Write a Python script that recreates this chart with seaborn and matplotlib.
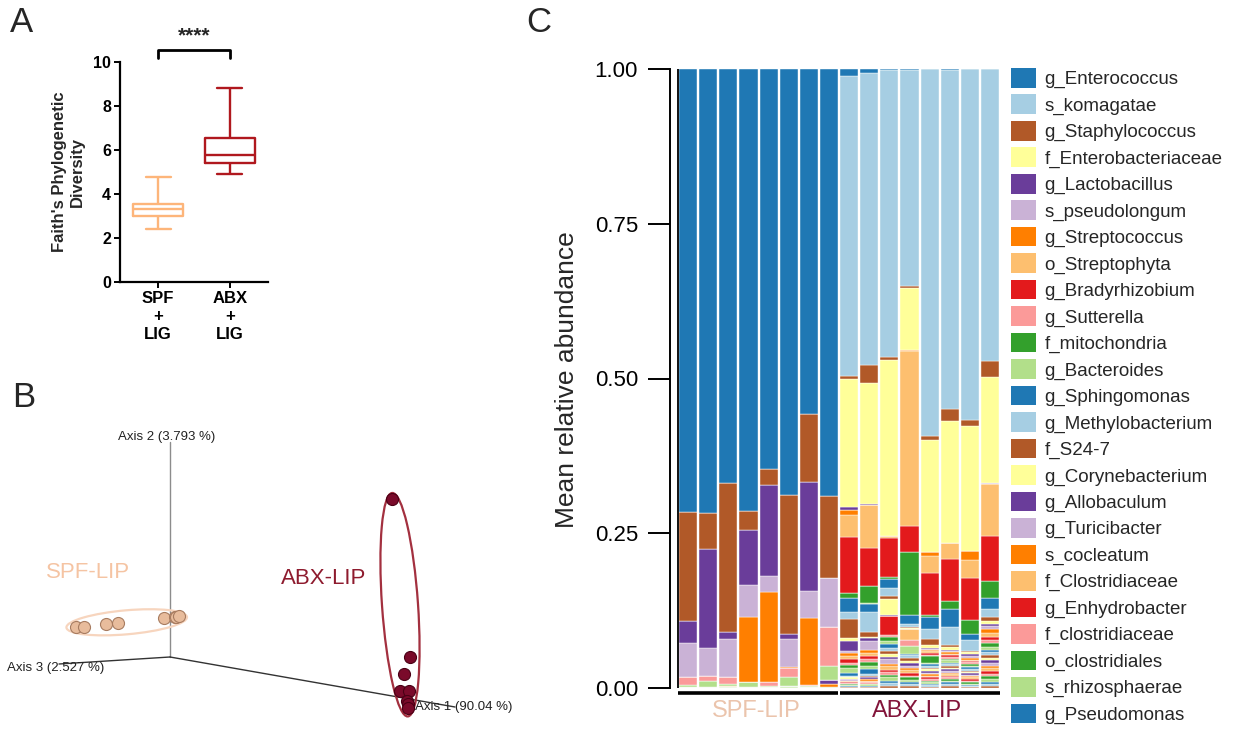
import numpy as np
import pandas as pd
import matplotlib
matplotlib.use("Agg")
import matplotlib.pyplot as plt
from matplotlib.patches import Ellipse, Patch
import seaborn as sns

FAITH_SPF = [2.42, 3.02, 3.30, 3.55, 4.79]
FAITH_ABX = [4.91, 5.42, 5.77, 6.53, 8.80]
GROUPS_A = ["SPF\n+\nLIG", "ABX\n+\nLIG"]
COLORS_A = ["#FDB57A", "#B0181E"]

# ---------------- Panel B data (projected PCoA coordinates, origin = axes origin)
SPF_PC_X = [-94.3, -86.0, -64.1, -52.0, -6.1, 4.7, 6.0, 8.8]
SPF_PC_Y = [29.7, 30.3, 32.7, 34.3, 38.7, 39.7, 40.5, 41.0]
ABX_PC_X = [221.7, 239.7, 233.5, 230.0, 239.0, 237.0, 238.0, 238.0]
ABX_PC_Y = [157.7, -0.3, -17.3, -33.7, -34.0, -43.7, -47.3, -51.3]
AXIS_LABELS_B = ["Axis 1 (90.04 %)", "Axis 2 (3.793 %)", "Axis 3 (2.527 %)"]

# ---------------- Panel C data
TAXA = ["g_Enterococcus", "s_komagatae", "g_Staphylococcus", "f_Enterobacteriaceae",
        "g_Lactobacillus", "s_pseudolongum", "g_Streptococcus", "o_Streptophyta",
        "g_Bradyrhizobium", "g_Sutterella", "f_mitochondria", "g_Bacteroides",
        "g_Sphingomonas", "g_Methylobacterium", "f_S24-7", "g_Corynebacterium",
        "g_Allobaculum", "g_Turicibacter", "s_cocleatum", "f_Clostridiaceae",
        "g_Enhydrobacter", "f_clostridiaceae", "o_clostridiales", "s_rhizosphaerae",
        "g_Pseudomonas"]
MINOR_TAXA = ["minor_%02d" % i for i in range(1, 15)]

SAMPLES = ["SPF-1", "SPF-2", "SPF-3", "SPF-4", "SPF-5", "SPF-6", "SPF-7", "SPF-8",
           "ABX-1", "ABX-2", "ABX-3", "ABX-4", "ABX-5", "ABX-6", "ABX-7", "ABX-8"]

#          Ent    kom    Stap   Entb   Lact   pseu   Strc   Stph   Brad   Sutt   mito   Bact
#          Sphi   Meth   S24    Cory   Allo   Turi   cocl   Clos   Enhy   fclo   oclo   rhiz   Pseu
SPF_1 = [0.716, 0, 0.175, 0, 0.036, 0.056, 0, 0, 0, 0.012, 0, 0.004,
         0, 0, 0, 0, 0, 0, 0, 0, 0, 0, 0, 0.001, 0]
SPF_2 = [0.717, 0, 0.058, 0, 0.161, 0.045, 0, 0, 0, 0.007, 0, 0.010,
         0, 0, 0, 0, 0, 0, 0.001, 0, 0, 0, 0, 0.001, 0]
SPF_3 = [0.669, 0, 0.240, 0, 0.012, 0.061, 0, 0, 0, 0.012, 0, 0.002,
         0, 0, 0, 0, 0, 0, 0.003, 0, 0, 0, 0, 0.001, 0]
SPF_4 = [0.714, 0, 0.031, 0, 0.089, 0.052, 0.104, 0, 0, 0.001, 0, 0.008,
         0, 0, 0, 0, 0, 0, 0, 0, 0, 0, 0, 0.001, 0]
SPF_5 = [0.647, 0, 0.025, 0, 0.147, 0.026, 0.146, 0, 0, 0.006, 0, 0.002,
         0, 0, 0, 0, 0, 0, 0, 0, 0, 0, 0, 0.001, 0]
SPF_6 = [0.688, 0, 0.224, 0, 0.009, 0.045, 0.002, 0, 0, 0.014, 0, 0.015,
         0, 0, 0, 0, 0, 0, 0, 0, 0, 0, 0.001, 0.002, 0]
SPF_7 = [0.558, 0, 0.110, 0, 0.176, 0.043, 0.108, 0, 0, 0.002, 0, 0.002,
         0, 0, 0, 0, 0, 0, 0, 0, 0, 0, 0, 0.001, 0]
SPF_8 = [0.690, 0, 0.133, 0, 0, 0.078, 0, 0, 0, 0.063, 0, 0.023,
         0, 0, 0, 0, 0.007, 0, 0.004, 0, 0, 0, 0, 0.002, 0]
ABX_1 = [0.012, 0.484, 0.004, 0.208, 0.004, 0, 0.009, 0.035, 0.090, 0, 0.009, 0,
         0.023, 0.011, 0.031, 0.004, 0.017, 0.003, 0.005, 0.004, 0.006, 0.004, 0.005, 0.008, 0.004]
ABX_2 = [0.007, 0.471, 0.030, 0.194, 0.003, 0, 0, 0.069, 0.061, 0, 0.028, 0.002,
         0.013, 0.032, 0.007, 0.003, 0.004, 0.014, 0.005, 0.006, 0.004, 0.005, 0.006, 0.005, 0.009]
ABX_3 = [0.002, 0.463, 0.005, 0.284, 0, 0, 0, 0.004, 0.062, 0, 0.004, 0,
         0.014, 0.013, 0.006, 0.025, 0.001, 0.001, 0, 0, 0.030, 0.004, 0.006, 0.005, 0.006]
ABX_4 = [0.001, 0.350, 0.003, 0.100, 0, 0, 0.002, 0.282, 0.043, 0, 0.101, 0,
         0.015, 0.004, 0.002, 0.001, 0, 0, 0, 0.018, 0, 0.010, 0, 0.013, 0.002]
ABX_5 = [0, 0.593, 0.007, 0.181, 0, 0, 0.006, 0.028, 0.067, 0, 0.003, 0,
         0.019, 0.017, 0.010, 0.004, 0.002, 0.002, 0.002, 0.002, 0.004, 0.002, 0.010, 0.003, 0.003]
ABX_6 = [0.002, 0.548, 0.018, 0.198, 0, 0, 0, 0.026, 0.067, 0, 0.014, 0,
         0.028, 0.030, 0.003, 0.004, 0.002, 0.002, 0.003, 0.002, 0.003, 0.003, 0.002, 0.004, 0.002]
ABX_7 = [0, 0.567, 0.010, 0.201, 0, 0, 0.015, 0.029, 0.068, 0, 0.023, 0,
         0.009, 0.018, 0.002, 0.003, 0.004, 0.002, 0.003, 0.002, 0.002, 0.003, 0.003, 0.002, 0.003]
ABX_8 = [0, 0.471, 0.027, 0.171, 0, 0.002, 0, 0.083, 0.073, 0, 0.027, 0,
         0.019, 0.012, 0.006, 0.005, 0.004, 0.005, 0.006, 0.006, 0.006, 0.005, 0.005, 0.005, 0.004]

# many tiny unnamed taxa at the bottom of the ABX bars
MINOR_SPF = [0] * 14
MINOR_ABX_1 = [0.002, 0.001, 0.002, 0.001, 0.002, 0.001, 0.002, 0.001, 0.002, 0.001, 0.002, 0.001, 0.001, 0.001]
MINOR_ABX_2 = [0.002, 0.002, 0.001, 0.002, 0.001, 0.002, 0.002, 0.001, 0.002, 0.001, 0.002, 0.002, 0.001, 0.001]
MINOR_ABX_3 = [0.006, 0.004, 0.005, 0.003, 0.008, 0.004, 0.006, 0.003, 0.005, 0.004, 0.006, 0.003, 0.004, 0.004]
MINOR_ABX_4 = [0.005, 0.004, 0.003, 0.005, 0.004, 0.003, 0.004, 0.005, 0.003, 0.004, 0.004, 0.003, 0.003, 0.003]
MINOR_ABX_5 = [0.003, 0.002, 0.003, 0.002, 0.003, 0.002, 0.003, 0.002, 0.003, 0.002, 0.003, 0.002, 0.003, 0.002]
MINOR_ABX_6 = [0.003, 0.003, 0.002, 0.003, 0.003, 0.002, 0.003, 0.003, 0.002, 0.003, 0.003, 0.003, 0.003, 0.003]
MINOR_ABX_7 = [0.003, 0.002, 0.002, 0.003, 0.002, 0.002, 0.003, 0.002, 0.002, 0.003, 0.002, 0.002, 0.002, 0.001]
MINOR_ABX_8 = [0.005, 0.004, 0.004, 0.005, 0.004, 0.004, 0.005, 0.004, 0.004, 0.005, 0.004, 0.003, 0.004, 0.003]

NAMED_ROWS = [SPF_1, SPF_2, SPF_3, SPF_4, SPF_5, SPF_6, SPF_7, SPF_8,
              ABX_1, ABX_2, ABX_3, ABX_4, ABX_5, ABX_6, ABX_7, ABX_8]
MINOR_ROWS = [MINOR_SPF] * 8 + [MINOR_ABX_1, MINOR_ABX_2, MINOR_ABX_3, MINOR_ABX_4,
                                MINOR_ABX_5, MINOR_ABX_6, MINOR_ABX_7, MINOR_ABX_8]

PAIRED = ["#1f78b4", "#a6cee3", "#b15928", "#ffff99", "#6a3d9a", "#cab2d6",
          "#ff7f00", "#fdbf6f", "#e31a1c", "#fb9a99", "#33a02c", "#b2df8a"]

# ---------------- style
sns.set_style("white")
plt.rcParams["font.family"] = ["Liberation Sans", "DejaVu Sans"]

fig = plt.figure(figsize=(12.35, 7.34), dpi=100)
W, H = 1235.0, 734.0


def fx(px):
    return px / W


def fy(py):
    return 1 - py / H


# ======================= Panel A
axA = fig.add_axes([fx(120), fy(282), 148 / W, 220 / H])
dfA = pd.DataFrame({"group": [GROUPS_A[0]] * len(FAITH_SPF) + [GROUPS_A[1]] * len(FAITH_ABX),
                    "value": FAITH_SPF + FAITH_ABX})
sns.boxplot(data=dfA, x="group", y="value", hue="group", order=GROUPS_A, hue_order=GROUPS_A,
            palette=COLORS_A, whis=(0, 100), fill=False, width=0.7, linewidth=1.7,
            legend=False, ax=axA)
axA.set_xlim(-0.53, 1.53)
axA.set_ylim(0, 10)
axA.set_yticks([0, 2, 4, 6, 8, 10])
for s in ["top", "right"]:
    axA.spines[s].set_visible(False)
for s in ["left", "bottom"]:
    axA.spines[s].set_linewidth(1.6)
    axA.spines[s].set_color("black")
axA.tick_params(axis="both", direction="out", length=4.5, width=1.4, colors="black",
                labelsize=11.5, pad=2, left=True, bottom=True)
for lab in axA.get_yticklabels() + axA.get_xticklabels():
    lab.set_fontweight("bold")
for lab in axA.get_xticklabels():
    lab.set_linespacing(1.25)
    lab.set_fontsize(12)
axA.set_xlabel("")
axA.set_ylabel("Faith's Phylogenetic\nDiversity", fontsize=12, fontweight="bold", labelpad=6)
axA.plot([0, 0, 1, 1], [10.2, 10.55, 10.55, 10.2], color="black", lw=2, clip_on=False)
axA.text(0.5, 10.75, "****", ha="center", va="bottom", fontsize=15, fontweight="bold")

# ======================= Panel B (3-D PCoA projection)
axB = fig.add_axes([0, 0, 540 / W, 364 / H])
axB.set_xlim(-170, 370)
axB.set_ylim(-77, 287)
axB.axis("off")
axB.plot([0, 0], [0, 215], color="#8c8c8c", lw=1)
axB.plot([0, -111], [0, -7], color="#333333", lw=1)
axB.plot([0, 285], [0, -50], color="#333333", lw=1)
axB.text(-52, 220, AXIS_LABELS_B[1], fontsize=9.5, va="center", ha="left", color="#222222")
axB.text(-163, -11, AXIS_LABELS_B[2], fontsize=9.5, va="center", ha="left", color="#222222")
axB.text(245, -50, AXIS_LABELS_B[0], fontsize=9.5, va="center", ha="left", color="#222222")
axB.add_patch(Ellipse((-43.3, 34.7), 121, 24, angle=5, fill=False, ec="#F7D5BE", lw=1.6, zorder=2))
axB.add_patch(Ellipse((230, 52.3), 36, 224, angle=4, fill=False, ec="#A3303F", lw=1.6, zorder=2))
sns.scatterplot(x=SPF_PC_X, y=SPF_PC_Y, s=75, color="#E8BC9C", edgecolor="#A87C60",
                linewidth=0.8, ax=axB, zorder=3)
sns.scatterplot(x=ABX_PC_X, y=ABX_PC_Y, s=75, color="#7A0A2A", edgecolor="#4A0015",
                linewidth=0.8, ax=axB, zorder=3)
axB.text(-81.5, 84, "SPF-LIP", fontsize=16, color="#F5C4A3", ha="center", va="center")
axB.text(153.5, 78, "ABX-LIP", fontsize=16, color="#8E1B2E", ha="center", va="center")

# ======================= Panel C (stacked relative abundance)
all_taxa = TAXA + MINOR_TAXA
palette_c = {t: PAIRED[i % 12] for i, t in enumerate(all_taxa)}
recs = []
for i, (named, minor) in enumerate(zip(NAMED_ROWS, MINOR_ROWS)):
    for t, v in zip(TAXA, named):
        if v > 0:
            recs.append((i, t, v))
    for t, v in zip(MINOR_TAXA, minor):
        if v > 0:
            recs.append((i, t, v))
dfC = pd.DataFrame(recs, columns=["sample", "taxon", "abundance"])

axC = fig.add_axes([fx(670), fy(688), 330 / W, 619 / H])
sns.histplot(data=dfC, x="sample", weights="abundance", hue="taxon", hue_order=all_taxa,
             palette=palette_c, multiple="stack", discrete=True, shrink=0.9, alpha=1,
             edgecolor="white", linewidth=0.3, legend=False, ax=axC)
axC.set_xlim(-0.9, 15.5)
axC.set_ylim(0, 1.0)
axC.set_yticks([0, 0.25, 0.5, 0.75, 1.0])
axC.set_yticklabels(["0.00", "0.25", "0.50", "0.75", "1.00"])
axC.set_xticks([])
for s in ["top", "right", "bottom"]:
    axC.spines[s].set_visible(False)
axC.spines["left"].set_linewidth(1.4)
axC.spines["left"].set_color("black")
axC.tick_params(axis="y", direction="out", length=16, width=1.4, labelsize=16, pad=7,
                colors="black", left=True)
axC.set_xlabel("")
axC.set_ylabel("")
axC.axvline(-0.5, color="black", lw=1.3)
axC.plot([-0.5, 7.45], [-0.008, -0.008], color="black", lw=2.6, clip_on=False,
         solid_capstyle="butt")
axC.plot([7.55, 15.5], [-0.008, -0.008], color="black", lw=2.6, clip_on=False,
         solid_capstyle="butt")
axC.text(3.4, -0.037, "SPF-LIP", fontsize=17, color="#EBC4AC", ha="center", va="center")
axC.text(11.4, -0.037, "ABX-LIP", fontsize=17, color="#82143A", ha="center", va="center")
fig.text(fx(567), fy(380), "Mean relative abundance", rotation=90, fontsize=19,
         ha="center", va="center")

handles = [Patch(facecolor=palette_c[t], edgecolor="none") for t in TAXA]
axC.legend(handles, TAXA, loc="upper left", bbox_to_anchor=(fx(1011), fy(68)),
           bbox_transform=fig.transFigure, frameon=False, fontsize=13.5,
           handlelength=1.33, handleheight=1.23, labelspacing=0.33, handletextpad=0.45,
           borderpad=0, borderaxespad=0)

# ======================= panel letters
fig.text(fx(10), fy(22), "A", fontsize=25, va="center", ha="left")
fig.text(fx(12), fy(397), "B", fontsize=25, va="center", ha="left")
fig.text(fx(526), fy(22), "C", fontsize=25, va="center", ha="left")

fig.savefig("out.png", dpi=100)
